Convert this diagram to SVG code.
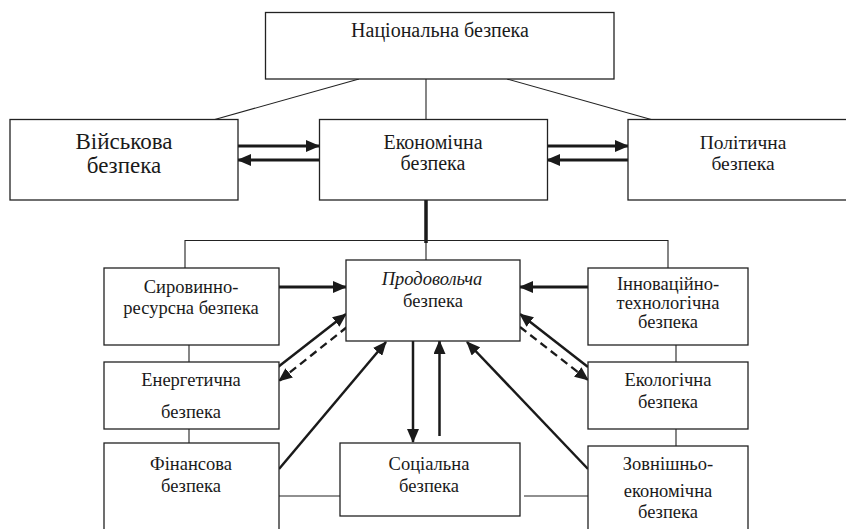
<svg xmlns="http://www.w3.org/2000/svg" width="846" height="529" viewBox="0 0 846 529">
<style>
.box{fill:#fff;stroke:#222;stroke-width:1.3}
.ln{stroke:#222;stroke-width:1.1;fill:none}
.ar{stroke:#1a1a1a;stroke-width:3;fill:none}
.ad{stroke:#1a1a1a;stroke-width:2.5;fill:none}
.ds{stroke:#1a1a1a;stroke-width:2.3;fill:none;stroke-dasharray:8 5}
text{font-family:"Liberation Serif","Times New Roman",serif;fill:#1a1a1a;text-anchor:middle}
.t{font-size:18.5px}
</style>
<defs>
<marker id="ah" markerUnits="userSpaceOnUse" markerWidth="14" markerHeight="12" refX="13" refY="6" orient="auto">
<path d="M0,0 L14,6 L0,12 Z" fill="#1a1a1a"/>
</marker>
</defs>
<rect width="846" height="529" fill="#fff"/>
<g id="connectors">
<line class="ln" x1="359" y1="79" x2="213" y2="120"/>
<line class="ln" x1="426" y1="79" x2="426" y2="120"/>
<line class="ln" x1="507" y1="79" x2="653" y2="120"/>
<line x1="426" y1="200" x2="426" y2="243" stroke="#1a1a1a" stroke-width="3.5"/>
<line class="ln" x1="426" y1="243" x2="426" y2="260"/>
<polyline class="ln" points="185,268 185,240.5 668,240.5 668,268"/>
<line class="ln" x1="189" y1="345" x2="189" y2="362"/>
<line class="ln" x1="189" y1="429" x2="189" y2="443"/>
<line class="ln" x1="676" y1="345" x2="676" y2="362"/>
<line class="ln" x1="676" y1="429" x2="676" y2="446"/>
<line class="ln" x1="279" y1="496" x2="340" y2="496"/>
<line class="ln" x1="524" y1="496" x2="588" y2="496"/>
<line class="ar" x1="238" y1="146" x2="319" y2="146" marker-end="url(#ah)"/>
<line class="ar" x1="319" y1="160" x2="238" y2="160" marker-end="url(#ah)"/>
<line class="ar" x1="547" y1="146" x2="628" y2="146" marker-end="url(#ah)"/>
<line class="ar" x1="628" y1="160" x2="547" y2="160" marker-end="url(#ah)"/>
<line class="ar" x1="279" y1="287" x2="346" y2="287" marker-end="url(#ah)"/>
<line class="ar" x1="588" y1="287" x2="520" y2="287" marker-end="url(#ah)"/>
<line class="ad" x1="278" y1="367" x2="346" y2="314" marker-end="url(#ah)"/>
<line class="ds" x1="347" y1="327" x2="279" y2="381" marker-end="url(#ah)"/>
<line class="ad" x1="279" y1="469" x2="386" y2="342" marker-end="url(#ah)"/>
<line class="ad" x1="413" y1="341" x2="413" y2="442" marker-end="url(#ah)"/>
<line class="ad" x1="439.5" y1="436" x2="439.5" y2="341" marker-end="url(#ah)"/>
<line class="ad" x1="588" y1="367" x2="520" y2="314" marker-end="url(#ah)"/>
<line class="ds" x1="520" y1="327" x2="588" y2="380" marker-end="url(#ah)"/>
<line class="ad" x1="588" y1="469" x2="467" y2="342" marker-end="url(#ah)"/>
</g>
<g id="nat"><rect class="box" x="265.5" y="12.5" width="348.5" height="66.5"/><text x="440" y="37" style="font-size:20px">Національна безпека</text></g>
<g id="mil"><rect class="box" x="10" y="119.5" width="228" height="80.5"/><text x="124" y="149" style="font-size:23px">Військова</text><text x="124" y="173" style="font-size:23px">безпека</text></g>
<g id="econ"><rect class="box" x="319.5" y="119.5" width="228" height="80.5"/><text x="433" y="149" style="font-size:20px">Економічна</text><text x="433" y="170" style="font-size:20px">безпека</text></g>
<g id="pol"><rect class="box" x="628" y="119.5" width="230" height="80.5"/><text x="743" y="149" style="font-size:19.5px">Політична</text><text x="743" y="170" style="font-size:19.5px">безпека</text></g>
<g id="syr"><rect class="box" x="104" y="268" width="175" height="77"/><text class="t" x="191" y="293">Сировинно-</text><text class="t" x="191" y="314">ресурсна безпека</text></g>
<g id="energ"><rect class="box" x="104" y="362" width="175" height="67"/><text class="t" x="191" y="386">Енергетична</text><text class="t" x="191" y="418">безпека</text></g>
<g id="fin"><rect class="box" x="104" y="443" width="175" height="100"/><text class="t" x="191" y="470">Фінансова</text><text class="t" x="191" y="492">безпека</text></g>
<g id="prod"><rect class="box" x="346" y="260" width="174" height="81"/><text class="t" x="432" y="285" font-style="italic">Продовольча</text><text class="t" x="433" y="307">безпека</text></g>
<g id="soc"><rect class="box" x="340" y="443" width="180" height="73"/><text class="t" x="429" y="470">Соціальна</text><text class="t" x="429" y="492">безпека</text></g>
<g id="innov"><rect class="box" x="588" y="268" width="160" height="77"/><text class="t" x="668" y="290">Інноваційно-</text><text class="t" x="668" y="309">технологічна</text><text class="t" x="668" y="328">безпека</text></g>
<g id="ecol"><rect class="box" x="588" y="362" width="160" height="67"/><text class="t" x="668" y="386">Екологічна</text><text class="t" x="668" y="408">безпека</text></g>
<g id="zovn"><rect class="box" x="588" y="446" width="160" height="100"/><text class="t" x="668" y="470">Зовнішньо-</text><text class="t" x="668" y="497">економічна</text><text class="t" x="668" y="518">безпека</text></g>
</svg>
